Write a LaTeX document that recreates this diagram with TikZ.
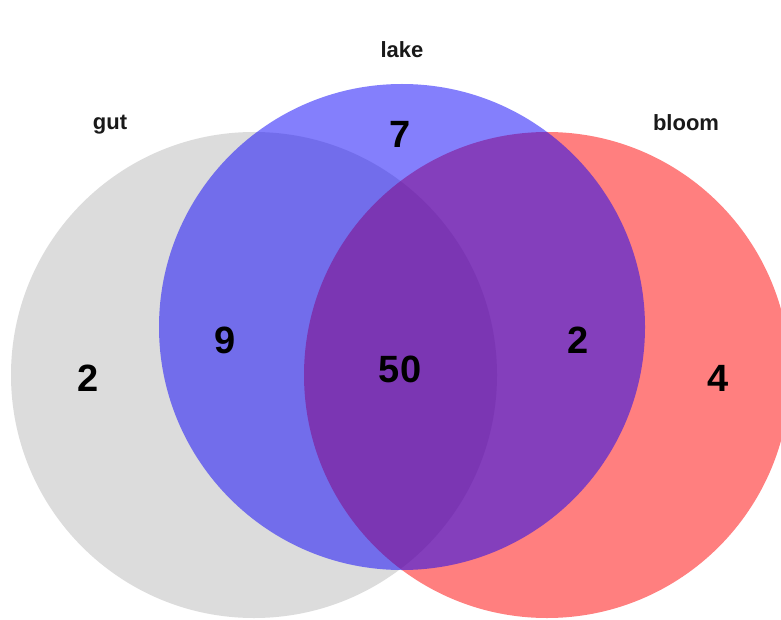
\documentclass[tikz,border=0pt]{standalone}
\usepackage{fontspec}
\setmainfont{Liberation Sans}
\begin{document}
\begin{tikzpicture}[x=1pt,y=-1pt,
  setfill/.style={draw=none,fill opacity=0.5},
  numlbl/.style={font=\fontsize{38}{40}\selectfont\bfseries,text=black,inner sep=0pt},
  setlbl/.style={font=\fontsize{22}{24}\selectfont\bfseries,text=black!90,inner sep=0pt}]
\useasboundingbox (0,0) rectangle (781,620);
\fill[white] (0,0) rectangle (781,620);
\begin{scope}
\clip (0,0) rectangle (781,620);
\fill[setfill,fill={rgb,255:red,186;green,186;blue,186}] (254,375) circle (243);
\fill[setfill,fill={rgb,255:red,255;green,0;blue,0}] (547,375) circle (243);
\fill[setfill,fill={rgb,255:red,10;green,0;blue,250}] (402,327) circle (243);
\end{scope}
\node[setlbl] (gut) at (110,125) {gut};
\node[setlbl] (lake) at (402,50) {lake};
\node[setlbl] (bloom) at (686,123) {bloom};
\node[numlbl] (n7) at (400,134) {7};
\node[numlbl] (n2a) at (88,378) {2};
\node[numlbl] (n9) at (225,340) {9};
\node[numlbl] (n50) at (400,369) {50};
\node[numlbl] (n2b) at (578,340) {2};
\node[numlbl] (n4) at (718,378) {4};
\end{tikzpicture}
\end{document}
